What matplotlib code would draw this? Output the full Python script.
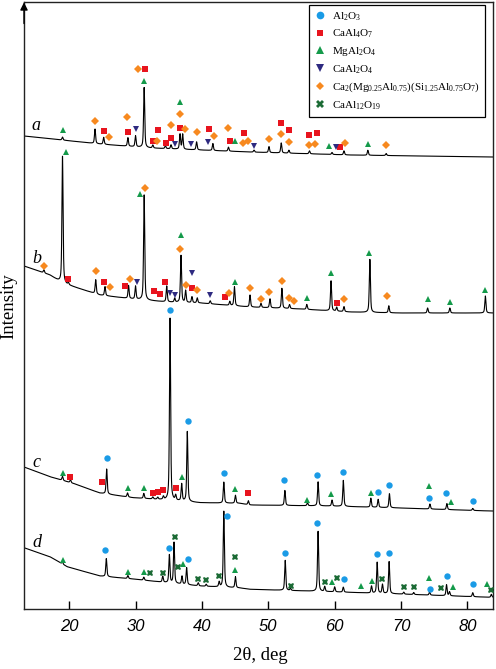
import numpy as np
import matplotlib
matplotlib.use('Agg')
import matplotlib.pyplot as plt
from matplotlib.lines import Line2D

plt.rcParams['mathtext.fontset'] = 'custom'
plt.rcParams['mathtext.rm'] = 'Liberation Serif'
plt.rcParams['mathtext.it'] = 'Liberation Serif:italic'
plt.rcParams['font.family'] = ['Liberation Serif', 'DejaVu Serif']

# ---------------- data (2theta in deg, intensity in arbitrary units) ----------------
# trace a
a_base_deg = [13.2, 24.6, 32.2, 47.25, 62.3, 83.4]
a_base_int = [473, 465, 461, 457, 454, 452]
a_peak_deg = [19.0, 23.9, 25.2, 28.85, 30.0, 31.3, 32.6, 34.5, 35.35, 36.7, 37.1, 39.2,
              41.65, 44.0, 47.85, 50.1, 51.95, 53.1, 56.2, 59.6, 61.4, 65.0, 67.75]
a_peak_h = [3, 14.5, 7, 8.5, 11, 60, 3, 3, 4, 15, 15, 8,
            7, 4, 2, 6, 10, 3, 3, 2, 4, 5, 2]

# trace b
b_base_deg = [13.2, 17.1, 18.9, 24.6, 29.6, 34.75, 39.7, 47.25, 54.8, 62.3, 69.8, 83.4]
b_base_int = [343, 334, 326, 314, 310, 307, 306, 302, 300, 297, 296, 296]
b_peak_deg = [16.2, 19.0, 19.9, 24.0, 25.4, 28.95, 30.0, 31.3, 34.7, 35.9, 36.85, 37.55,
              38.5, 39.3, 41.25, 44.2, 44.9, 47.25, 48.9, 50.25, 52.05, 53.2, 55.8, 59.45,
              60.3, 61.4, 65.3, 68.15, 74.0, 77.35, 82.7]
b_peak_h = [3, 127, 2, 14, 9, 13, 13, 105, 16, 4, 47, 12,
            6, 5, 3, 4, 19, 12, 4, 9, 20, 4, 5, 30,
            4, 5, 53, 7, 5, 5, 17]

# trace c
c_base_deg = [13.2, 17.1, 20.9, 24.6, 29.6, 34.75, 39.7, 45.7, 47.25, 59.3, 69.8, 83.4]
c_base_int = [142, 132.3, 125, 116, 111.3, 109, 106.3, 105.7, 104, 103, 101, 98]
c_peak_deg = [19.0, 20.2, 25.65, 28.8, 31.25, 32.6, 33.35, 34.2, 35.2, 36.05, 36.95, 37.8,
              43.3, 45.05, 47.0, 52.5, 55.9, 57.5, 59.6, 61.3, 65.45, 66.55, 68.25, 74.35,
              76.9, 80.8]
c_peak_h = [4, 3, 25, 4, 5, 2, 2, 3, 182, 5, 17, 70,
            21, 8, 4, 15, 3, 24, 6, 26, 9, 8, 14, 5,
            6, 2]

# trace d
d_base_deg = [13.2, 17.1, 19.7, 24.65, 29.6, 34.75, 39.7, 45.7, 47.25, 59.3, 69.8, 83.4]
d_base_int = [61.3, 52.3, 42.3, 33, 30, 26.3, 23, 21, 19.7, 17.3, 15, 11.7]
d_peak_deg = [19.0, 25.6, 28.85, 31.25, 34.1, 35.1, 35.8, 37.0, 37.7, 39.45, 40.65, 42.6,
              43.3, 45.05, 52.55, 53.35, 57.5, 58.5, 60.0, 61.3, 65.55, 66.4, 67.2, 68.2,
              70.4, 71.9, 74.3, 76.85, 77.3, 80.8, 83.6]
d_peak_h = [2, 18, 3, 3, 6, 28, 41, 8, 17, 3, 2, 5,
            76, 11, 30, 2, 60, 5, 5, 5, 7, 31, 9, 32,
            2, 2, 3, 11, 4, 4, 3]

# phase markers (deg, intensity)
m_Al2O3 = [(25.65, 151), (35.2, 299), (37.85, 188), (43.3, 136), (52.4, 129), (57.4, 134),
           (61.2, 137), (66.55, 117), (68.25, 124), (74.2, 111), (76.8, 116), (80.8, 108),
           (25.45, 59), (35.05, 61), (37.85, 50), (43.8, 93), (52.55, 56), (57.4, 86),
           (61.35, 30), (66.4, 55), (68.25, 56), (74.3, 20), (76.85, 33), (80.8, 25)]
m_CaAl4O7 = [(25.3, 478), (28.85, 477), (31.4, 540), (32.6, 468), (33.4, 479), (34.55, 466),
             (35.35, 471), (36.7, 481), (41.05, 480), (44.2, 468), (46.3, 476), (51.95, 486),
             (53.1, 479), (56.2, 474), (57.3, 476), (60.8, 462),
             (19.9, 330), (25.3, 327), (28.45, 323), (32.8, 318), (33.65, 315), (34.5, 327),
             (38.5, 321), (43.5, 312), (60.3, 306),
             (20.2, 132), (25.0, 127), (32.6, 116), (33.35, 117), (34.2, 119), (36.05, 121),
             (46.95, 116)]
m_MgAl2O4 = [(19.0, 479), (31.25, 528), (36.7, 507), (45.05, 468), (59.1, 463), (65.0, 465),
             (19.6, 457), (30.65, 415), (36.8, 374), (45.05, 327), (55.8, 311), (59.45, 336),
             (65.2, 356), (74.0, 310), (77.35, 307), (82.65, 319),
             (19.0, 136), (28.8, 121), (31.25, 121), (36.95, 132), (45.0, 120), (55.9, 109),
             (59.4, 115), (65.4, 116), (74.25, 123), (77.5, 107),
             (19.0, 49), (28.9, 37), (31.3, 37), (37.2, 45), (45.05, 39), (59.6, 27),
             (64.0, 23), (65.55, 28), (74.2, 31), (77.75, 22), (82.9, 25)]
m_CaAl2O4 = [(30.0, 480), (35.9, 465), (38.35, 465), (40.95, 467), (47.85, 463), (60.2, 462),
             (30.25, 327), (35.2, 316), (35.9, 314), (38.45, 336), (41.25, 314)]
m_Gehlenite = [(23.9, 488), (26.05, 472), (28.7, 492), (30.3, 540), (33.25, 468), (35.35, 484),
               (36.7, 495), (37.5, 480), (39.2, 477), (41.75, 473), (44.0, 481), (46.2, 466),
               (47.0, 468), (50.15, 470), (51.85, 475), (53.1, 467), (56.1, 464), (57.1, 465),
               (61.55, 466), (67.75, 464),
               (16.2, 343), (24.0, 338), (26.15, 322), (29.15, 330), (31.5, 421), (36.75, 360),
               (37.55, 324), (39.3, 319), (44.1, 316), (47.25, 321), (48.9, 310), (50.15, 317),
               (52.0, 328), (53.15, 311), (53.9, 308), (61.4, 310), (67.95, 313)]
m_CaAl12O19 = [(32.2, 36), (34.1, 36), (36.0, 72), (36.45, 42), (39.45, 30), (40.65, 29),
               (42.6, 33), (45.0, 52), (53.35, 23), (58.5, 27), (60.35, 31), (67.2, 30),
               (70.4, 22), (71.9, 22), (76.05, 21), (83.6, 19)]

trace_labels = ['a', 'b', 'c', 'd']
label_pos = [(14.4, 479), (14.4, 346), (14.4, 142), (14.4, 62)]
x_ticks = [20, 30, 40, 50, 60, 70, 80]

phase_names = [r'$\mathregular{Al_2O_3}$', r'$\mathregular{CaAl_4O_7}$', r'$\mathregular{MgAl_2O_4}$',
               r'$\mathregular{CaAl_2O_4}$',
               r'$\mathregular{Ca_2(Mg_{0.25}Al_{0.75})(Si_{1.25}Al_{0.75}O_7)}$',
               r'$\mathregular{CaAl_{12}O_{19}}$']
phase_marks = [m_Al2O3, m_CaAl4O7, m_MgAl2O4, m_CaAl2O4, m_Gehlenite, m_CaAl12O19]
phase_style = [('o', '#1a9be6', 4.6), ('s', '#e8141e', 4.0), ('^', '#149a4a', 4.6),
               ('v', '#2e2a80', 4.6), ('D', '#f7891f', 3.8), ('X', '#1b6b35', 5.0)]

# ---------------- build ----------------
grid = np.arange(13.2, 83.86, 0.01)


def trace(bx, by, px, ph, fwhm=0.2):
    y = np.interp(grid, bx, by)
    hw = fwhm / 2
    for p, h in zip(px, ph):
        d = (grid - p) / hw
        y = y + h * (0.55 / (1 + d ** 2) + 0.45 * np.exp(-np.log(2) * d ** 2))
    return y


fig = plt.figure(figsize=(4.96, 6.69), dpi=100)
ax = fig.add_axes([24 / 496, 1 - 609 / 669, 469 / 496, 607 / 669])

for bx, by, px, ph in [(a_base_deg, a_base_int, a_peak_deg, a_peak_h),
                       (b_base_deg, b_base_int, b_peak_deg, b_peak_h),
                       (c_base_deg, c_base_int, c_peak_deg, c_peak_h),
                       (d_base_deg, d_base_int, d_peak_deg, d_peak_h)]:
    ax.plot(grid, trace(bx, by, px, ph), color='black', lw=0.8)

handles = []
for name, marks, (mk, col, ms) in zip(phase_names, phase_marks, phase_style):
    xs = [m[0] for m in marks]
    ys = [m[1] for m in marks]
    ax.plot(xs, ys, linestyle='none', marker=mk, color=col, markersize=ms,
            markeredgewidth=0, zorder=3)
    handles.append(Line2D([], [], linestyle='none', marker=mk, color=col,
                          markersize=ms * 1.2, markeredgewidth=0, label=name))

for lab, (lx, ly) in zip(trace_labels, label_pos):
    ax.text(lx, ly, lab, fontsize=13, style='italic', ha='left', va='baseline',
            family='Liberation Serif')

ax.set_xlim(13.2, 83.85)
ax.set_ylim(0, 607)
ax.set_xticks(x_ticks, labels=[str(v) for v in x_ticks], fontfamily='Liberation Sans',
              fontstyle='italic', fontsize=12)
ax.set_yticks([])
ax.tick_params(axis='x', direction='in', length=6, width=1, pad=7)
for s in ax.spines.values():
    s.set_linewidth(1.0)
    s.set_color('#222222')

leg = ax.legend(handles=handles, loc='upper right', bbox_to_anchor=(0.983, 0.995),
                fontsize=8, frameon=True, fancybox=False, edgecolor='black',
                framealpha=1, handletextpad=0.6, labelspacing=0.45, borderpad=0.45,
                handlelength=1.0, borderaxespad=0)
leg.get_frame().set_linewidth(0.9)

ax.annotate('', xy=(0, 1.004), xytext=(0, 0.96), xycoords='axes fraction',
            arrowprops=dict(arrowstyle='-|>', color='black', lw=1.0, mutation_scale=11),
            annotation_clip=False)

fig.text(9 / 496, 1 - 306 / 669, 'Intensity', rotation=90, ha='center', va='center',
         fontsize=13.5)
fig.text(260 / 496, 1 - 656 / 669, '2θ, deg', ha='center', va='center', fontsize=13.5)

fig.savefig('out.png', dpi=100)
